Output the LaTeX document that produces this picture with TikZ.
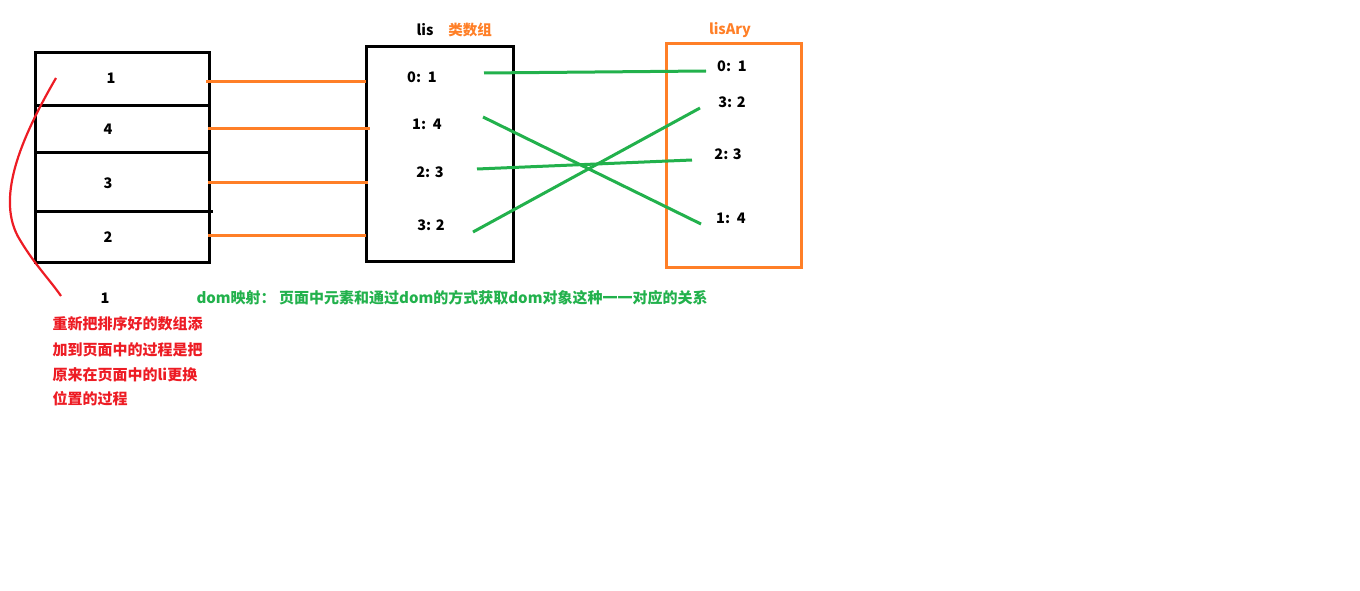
\documentclass[tikz,border=0pt]{standalone}
\usepackage{fontspec}
\setmainfont{Noto Sans CJK SC}
\usepackage{tikz}
\usetikzlibrary{positioning, calc}
\definecolor{paintorange}{RGB}{255, 127, 39}
\definecolor{paintgreen}{RGB}{34, 177, 76}
\definecolor{paintred}{RGB}{237, 28, 36}
\tikzset{
    item/.style={font=\fontsize{14.5}{16}\selectfont\bfseries, inner sep=1pt},
    title/.style={item},
    note/.style={font=\fontsize{15}{17}\selectfont\bfseries, inner sep=0pt, anchor=west}
}

\begin{document}
\begin{tikzpicture}[x=1pt, y=-1pt, line width=3pt]
    \useasboundingbox (0,0) rectangle (1360,591);
    % left list of li
    \draw (35,53) rectangle (209,262);
    \draw (35,106) -- (209,106);
    \draw (35,153) -- (209,153);
    \draw (35,211) -- (213,211);
    \node[item] (l1) at (111,78) {1};
    \node[item] (l2) at (108,129) {4};
    \node[item] (l3) at (108,183) {3};
    \node[item] (l4) at (108,237) {2};
    \node[item] (lb) at (105,298) {1};
    % lis
    \draw (366,47) rectangle (513,261);
    \node[title] (lis) at (425,30) {lis};
    \node[title, text=paintorange, right=10pt of lis] (lisnote) {类数组};
    \node[item] (m0) at (422,77) {0:\, 1};
    \node[item] (m1) at (427,124) {1:\, 4};
    \node[item] (m2) at (430,172) {2: 3};
    \node[item] (m3) at (431,225) {3: 2};
    % lisAry
    \draw[paintorange] (666,44) rectangle (801,267);
    \node[title, text=paintorange] (lisary) at (730,30) {lisAry};
    \node[item] (r0) at (732,66) {0:\, 1};
    \node[item] (r3) at (732,102) {3: 2};
    \node[item] (r2) at (728,154) {2: 3};
    \node[item] (r1) at (731,218) {1:\, 4};
    % orange links
    \foreach \y/\a/\b in {82/206/366, 129/208/370, 182/208/368, 235/208/366}
        \draw[paintorange] (\a,\y) -- (\b,\y);
    % green links
    \coordinate (g0a) at (484,73);  \coordinate (g0b) at (706,71);
    \coordinate (g1a) at (483,117); \coordinate (g1b) at (701,224);
    \coordinate (g2a) at (477,169); \coordinate (g2b) at (692,160);
    \coordinate (g3a) at (473,232); \coordinate (g3b) at (700,108);
    \foreach \n in {0,...,3}
        \draw[paintgreen] (g\n a) -- (g\n b);
    % red curve
    \draw[paintred, line width=2.2pt] (56,78) .. controls (20,140) and (-5,200) .. (20,240)
        .. controls (35,265) and (50,280) .. (61,296);
    % notes
    \node[note, text=paintgreen] (dom) at (195,298) {dom映射： 页面中元素和通过dom的方式获取dom对象这种一一对应的关系};
    \node[note, text=paintred] (n1) at (51,324) {重新把排序好的数组添};
    \node[note, text=paintred] (n2) at (51,350) {加到页面中的过程是把};
    \node[note, text=paintred] (n3) at (51,375) {原来在页面中的li更换};
    \node[note, text=paintred] (n4) at (51,399) {位置的过程};
\end{tikzpicture}
\end{document}
